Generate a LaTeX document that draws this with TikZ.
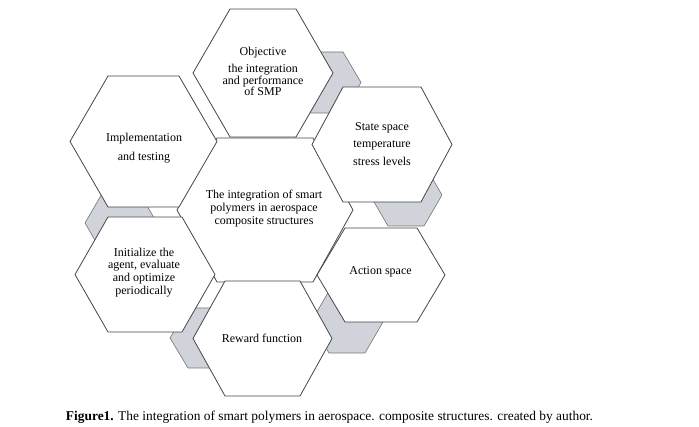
\documentclass[tikz,border=0pt]{standalone}
\usepackage{fontspec}
\setmainfont{Liberation Serif}
\usepackage{tikz}
\usetikzlibrary{positioning}
\definecolor{hexedge}{RGB}{70, 70, 70}
\definecolor{linkgrey}{RGB}{209, 211, 219}
\definecolor{linkedge}{RGB}{115, 115, 115}

% hexagon outline: centre x, centre y, half width, half height, inset
\newcommand{\hexshape}[5]{(#1-#3,#2) -- (#1-#3+#5,#2-#4) -- (#1+#3-#5,#2-#4) -- (#1+#3,#2) -- (#1+#3-#5,#2+#4) -- (#1-#3+#5,#2+#4) -- cycle}

\begin{document}
\begin{tikzpicture}[x=1pt, y=-1pt,
  hexcell/.style={draw=hexedge, fill=white, line width=0.8pt},
  linkcell/.style={draw=linkedge, fill=linkgrey, line width=0.6pt},
  hextext/.style={align=center, inner sep=0pt, font=\fontsize{12}{12.8}\selectfont}
]
  \useasboundingbox (0,0) rectangle (699,427);

  % grey pieces behind the ring
  \draw[linkcell] \hexshape{325}{82.5}{36}{30.5}{18};
  \draw[linkcell] \hexshape{406}{195}{36}{31}{18};
  \draw[linkcell] \hexshape{121}{223}{36}{31}{18};
  \draw[linkcell] \hexshape{206}{338}{36}{30}{18};
  \draw[linkcell] \hexshape{347}{322}{36}{31}{18};

  % white hexagons
  \draw[hexcell] \hexshape{265}{210}{88}{72}{40};
  \draw[hexcell] \hexshape{263}{73}{70}{64}{37};
  \draw[hexcell] \hexshape{143.5}{141.5}{73.5}{65.5}{38};
  \draw[hexcell] \hexshape{382}{144.5}{70}{57.5}{31};
  \draw[hexcell] \hexshape{145}{274.5}{70}{57.5}{33};
  \draw[hexcell] \hexshape{381}{275}{64}{47}{28};
  \draw[hexcell] \hexshape{262.5}{338.5}{69.5}{57.5}{32};

  \node[hextext] (core) at (264,208.5) {The integration of smart\\polymers in aerospace\\composite structures};
  \node[hextext, font=\fontsize{12}{11.5}\selectfont] (obj) at (263,71.5) {Objective\\[5.5pt]the integration\\and performance\\of SMP};
  \node[hextext] (impl) at (144,148) {Implementation\\[5.5pt]and testing};
  \node[hextext] (state) at (382,144) {State space\\[4.5pt]temperature\\[4.5pt]stress levels};
  \node[hextext] (init) at (144,272.5) {Initialize the\\agent, evaluate\\and optimize\\periodically};
  \node[hextext] (action) at (380.5,272) {Action space};
  \node[hextext] (reward) at (262,338) {Reward function};

  \node[anchor=base, inner sep=0pt, font=\fontsize{13.4}{16}\selectfont] (caption) at (329.5,421)
    {\textbf{Figure1.} The integration of smart polymers in aerospace. composite structures. created by author.};
\end{tikzpicture}
\end{document}
